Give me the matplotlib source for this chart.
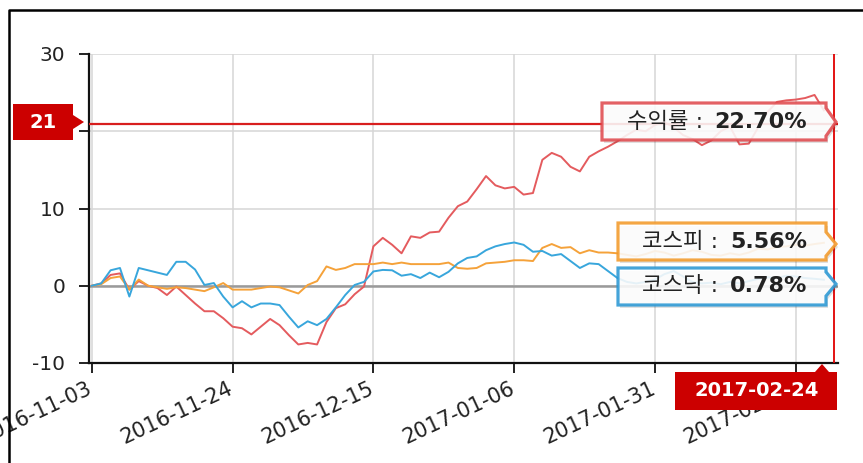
import matplotlib
matplotlib.use("Agg")
import matplotlib.pyplot as plt
from matplotlib.patches import Polygon
from matplotlib.lines import Line2D
from matplotlib.transforms import Affine2D, ScaledTranslation

# ---------------- data ----------------
tick_idx = [0, 15, 30, 45, 60, 75]
tick_labels = ['2016-11-03', '2016-11-24', '2016-12-15', '2017-01-06', '2017-01-31', '2017-02-21']
last_date = '2017-02-24'
y_ticks = [-10, 0, 10, 20, 30]
y_tick_labels = ['-10', '0', '10', '', '30']

ret = [0.0, 0.3, 1.4, 1.6, -0.5, 0.6, 0.0, -0.3, -1.2, -0.1,
       -1.2, -2.3, -3.3, -3.3, -4.2, -5.3, -5.5, -6.3, -5.3, -4.3,
       -5.1, -6.4, -7.6, -7.4, -7.6, -4.7, -2.9, -2.4, -1.1, -0.1,
       5.1, 6.2, 5.3, 4.2, 6.4, 6.2, 6.9, 7.0, 8.8, 10.3,
       10.9, 12.5, 14.2, 13.0, 12.6, 12.8, 11.8, 12.0, 16.3, 17.2,
       16.7, 15.4, 14.8, 16.7, 17.4, 18.0, 18.7, 19.5, 20.2, 20.0,
       20.8, 21.2, 20.5, 19.5, 19.0, 18.2, 18.8, 20.0, 20.6, 18.3,
       18.4, 20.5, 22.5, 23.8, 24.0, 24.1, 24.3, 24.7, 22.7]

kosdaq = [0.0, 0.3, 2.0, 2.3, -1.4, 2.3, 2.0, 1.7, 1.4, 3.1,
          3.1, 2.1, 0.1, 0.35, -1.4, -2.8, -2.0, -2.8, -2.3, -2.3,
          -2.5, -4.0, -5.4, -4.6, -5.1, -4.3, -2.8, -1.2, 0.1, 0.5,
          1.85, 2.05, 2.0, 1.3, 1.5, 1.0, 1.7, 1.1, 1.8, 2.9,
          3.6, 3.8, 4.6, 5.1, 5.4, 5.6, 5.3, 4.4, 4.5, 3.9,
          4.1, 3.2, 2.3, 2.9, 2.8, 1.9, 1.0, 0.5, 0.3, 0.5,
          0.8, 1.5, 1.9, 1.2, 0.5, 0.3, 0.4, 0.2, 0.5, 0.3,
          0.6, 0.9, 1.1, 1.0, 1.3, 1.2, 1.0, 0.9, 0.78]

kospi = [0.0, 0.2, 1.0, 1.2, -0.5, 0.8, 0.0, -0.2, -0.4, -0.2,
         -0.3, -0.5, -0.7, -0.2, 0.35, -0.5, -0.5, -0.5, -0.3, -0.1,
         -0.2, -0.6, -1.0, 0.1, 0.6, 2.5, 2.05, 2.3, 2.8, 2.8,
         2.8, 3.0, 2.8, 3.0, 2.8, 2.8, 2.8, 2.8, 3.0, 2.3,
         2.2, 2.3, 2.9, 3.0, 3.1, 3.3, 3.3, 3.2, 4.9, 5.4,
         4.9, 5.0, 4.2, 4.6, 4.3, 4.3, 4.2, 4.0, 3.8, 4.1,
         4.5, 4.3, 3.9, 4.2, 4.6, 4.4, 4.0, 3.9, 4.2, 4.0,
         4.3, 4.8, 4.7, 5.0, 5.1, 5.3, 5.2, 5.4, 5.56]

cross_y = 21
series_names = ['수익률', '코스피', '코스닥']
final_vals = [22.70, 5.56, 0.78]

# ---------------- style ----------------
RED_LINE = '#e45b5e'
ORANGE = '#f5a23a'
BLUE = '#38a6dc'
CROSS = '#d81e1e'
LABEL_RED = '#cc0000'
TXT = '#222222'
FAM = ['DejaVu Sans', 'Noto Sans CJK KR']
plt.rcParams['font.family'] = FAM
plt.rcParams['axes.unicode_minus'] = False

W, H = 863, 463
fig = plt.figure(figsize=(W / 100, H / 100), dpi=100)
pix = Affine2D().scale(1 / W, -1 / H).translate(0, 1) + fig.transFigure

ax_l, ax_r, ax_t, ax_b = 89, 838, 54, 363
ax = fig.add_axes([ax_l / W, 1 - ax_b / H, (ax_r - ax_l) / W, (ax_b - ax_t) / H])

x = list(range(len(ret)))
ax.plot(x, ret, color=RED_LINE, lw=1.4, zorder=3)
ax.plot(x, kospi, color=ORANGE, lw=1.4, zorder=4)
ax.plot(x, kosdaq, color=BLUE, lw=1.4, zorder=5)

ax.set_xlim(-0.3, 79.5)
ax.set_ylim(-10, 30)
ax.set_yticks(y_ticks)
ax.set_yticklabels(y_tick_labels)
ax.set_xticks(tick_idx)
ax.set_xticklabels(tick_labels, rotation=25, ha='right', va='top',
                   rotation_mode='anchor')
ax.tick_params(axis='both', colors='#111111', labelcolor=TXT, labelsize=14.5,
               length=7, width=1.3, direction='out')
ax.tick_params(axis='x', labelsize=15, pad=4)
ax.tick_params(axis='y', pad=10)
shift = ScaledTranslation(-5 / 100, 0, fig.dpi_scale_trans)
for lab in ax.get_xticklabels():
    lab.set_transform(lab.get_transform() + shift)
for s in ['top', 'right']:
    ax.spines[s].set_visible(False)
for s in ['left', 'bottom']:
    ax.spines[s].set_color('#111111')
    ax.spines[s].set_linewidth(1.6)

ax.grid(True, color='#d6d6d6', lw=1.1, zorder=0)
ax.set_axisbelow(True)
ax.axhline(0, color='#9a9a9a', lw=1.8, zorder=2)

# crosshair
ax.axhline(cross_y, color=CROSS, lw=1.6, zorder=6)
ax.axvline(79.1, color='#e00000', lw=1.3, zorder=6)

# figure border (partially clipped)
fig.add_artist(Line2D([9, 9, 870], [470, 10, 10], color='black', lw=1.8, transform=pix))


def add_poly(pts, fc, ec, lw=0.0, alpha=1.0, z=10):
    p = Polygon(pts, closed=True, facecolor=fc, edgecolor=ec, lw=lw,
                alpha=alpha, transform=pix, zorder=z, joinstyle='miter')
    fig.add_artist(p)


# "21" label
add_poly([(13, 104), (73, 104), (73, 115), (84, 122), (73, 129), (73, 140), (13, 140)],
         LABEL_RED, 'none')
fig.text(43, 122, str(cross_y), transform=pix, color='white', fontsize=14,
         fontweight='bold', ha='center', va='center', zorder=11)

# date label
add_poly([(675, 372), (815, 372), (822, 364), (829, 372), (837, 372), (837, 410), (675, 410)],
         LABEL_RED, 'none')
fig.text(757, 391, last_date, transform=pix, color='white', fontsize=14,
         fontweight='bold', ha='center', va='center', zorder=11)


def tag(x0, y0, y1, tipy, color, name, val, split):
    x1 = 826
    tip = 836
    hh = min(tipy - y0, y1 - tipy) - 4
    pts = [(x0, y0), (x1, y0), (x1, tipy - hh), (tip, tipy), (x1, tipy + hh),
           (x1, y1), (x0, y1)]
    shadow = [(px + 2, py + 3) for px, py in pts]
    add_poly(shadow, '#000000', 'none', alpha=0.12, z=9)
    add_poly(pts, 'white', color, lw=2.3, alpha=0.88, z=10)
    cy = (y0 + y1) / 2
    fig.text(split, cy, name + ' :', transform=pix, color=TXT, fontsize=16,
             ha='right', va='center', zorder=11)
    fig.text(807, cy, f'{val:.2f}%', transform=pix, color=TXT, fontsize=16,
             fontweight='bold', ha='right', va='center', zorder=11)


tag(602, 103, 140, 122, '#e04b4f', series_names[0], final_vals[0], 703)
tag(618, 223, 260, 244, '#f39a2a', series_names[1], final_vals[1], 718)
tag(618, 268, 305, 284, '#2b98d4', series_names[2], final_vals[2], 718)

fig.savefig('out.png', dpi=100)
